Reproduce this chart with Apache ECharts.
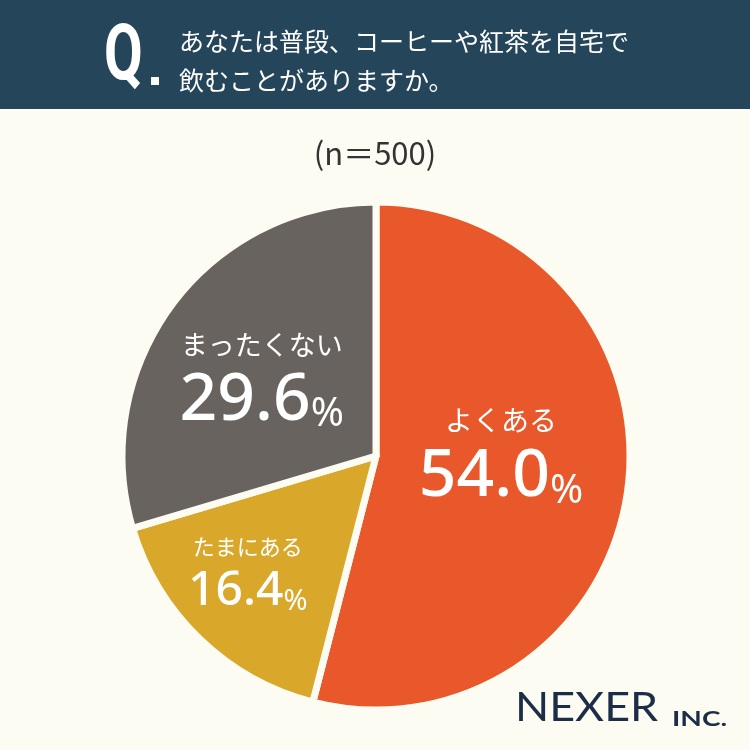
<!DOCTYPE html>
<html>
<head>
<meta charset="utf-8">
<script src="https://cdn.jsdelivr.net/npm/echarts@6/dist/echarts.min.js"></script>
<style>
  html, body { margin: 0; padding: 0; background: #fdfcf2; }
  #chart { width: 750px; height: 750px; }
</style>
</head>
<body>
<div id="chart"></div>
<script>
    // answers, clockwise from 12 o'clock
    const categories = ['よくある', 'たまにある', 'まったくない'];
    const shares = [54.0, 16.4, 29.6];
    const colors = ['#e8582a', '#d9a82b', '#69635f'];
    // label tweaks per slice: [dx, dy, number size, name size]
    const labelTweaks = [[-4, -18, 66, 28], [-38, 22, 48, 22], [-10, 0, 66, 27]];

    const chart = echarts.init(document.getElementById('chart'));

    const pieData = categories.map(function (name, i) {
        const t = labelTweaks[i];
        return {
            name: name,
            value: shares[i],
            itemStyle: { color: colors[i] },
            label: {
                offset: [t[0], t[1]],
                rich: {
                    name: { fontSize: t[3], color: '#fff', fontFamily: 'Noto Sans CJK JP', lineHeight: t[3] + 18 },
                    num: { fontSize: t[2], color: '#fff', fontFamily: 'Noto Sans', fontWeight: 500, lineHeight: t[2] + 2 },
                    pct: { fontSize: Math.round(t[2] * 0.6), color: '#fff', fontFamily: 'Noto Sans', lineHeight: t[2] + 2, verticalAlign: 'bottom' }
                }
            }
        };
    });

    const option = {
        backgroundColor: '#fdfcf2',
        animation: false,
        graphic: [
            { type: 'rect', left: 0, top: 0, shape: { width: 750, height: 109 }, style: { fill: '#24455a' } },
            { type: 'text', x: 104, y: 20, scaleX: 0.72, style: { text: 'Q', fontSize: 78, fontWeight: 'bold', fill: '#fff', fontFamily: 'Roboto' } },
            { type: 'rect', left: 151, top: 77, shape: { width: 8, height: 8 }, style: { fill: '#fff' } },
            { type: 'text', left: 179, top: 22, style: { text: 'あなたは普段、コーヒーや紅茶を自宅で\n飲むことがありますか。', fontSize: 25, lineHeight: 39, fill: '#fff', fontFamily: 'Noto Sans CJK JP' } },
            { type: 'text', left: 'center', top: 138, style: { text: '(n＝500)', fontSize: 31, fill: '#333', fontFamily: 'Noto Sans CJK JP' } },
            { type: 'text', x: 515, y: 688, scaleX: 1.12, style: { text: 'NEXER', fontSize: 40, fill: '#1b2d47', fontFamily: 'Lato' } },
            { type: 'text', x: 672, y: 710, scaleX: 1.4, style: { text: 'INC.', fontSize: 20, fontWeight: 'bold', fill: '#1b2d47', fontFamily: 'Lato' } }
        ],
        series: [{
            type: 'pie',
            center: [376, 456],
            radius: [0, 254],
            startAngle: 90,
            clockwise: true,
            itemStyle: { borderColor: '#fdfcf2', borderWidth: 7 },
            label: {
                show: true,
                position: 'inside',
                align: 'center',
                formatter: function (p) {
                    return '{name|' + p.name + '}\n{num|' + p.value.toFixed(1) + '}{pct|%}';
                }
            },
            labelLine: { show: false },
            emphasis: { disabled: true },
            data: pieData
        }]
    };

    chart.setOption(option);
</script>
</body>
</html>
